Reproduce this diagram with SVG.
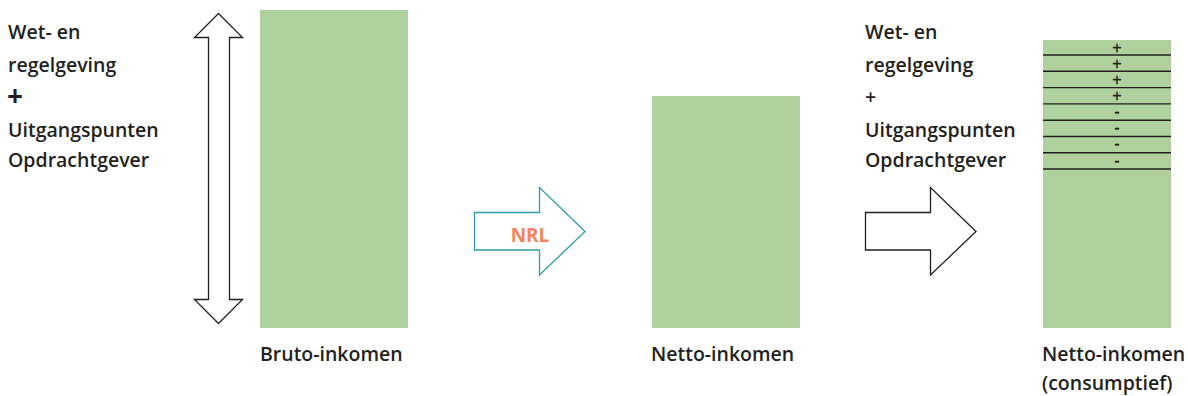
<svg xmlns="http://www.w3.org/2000/svg" width="1188" height="396" viewBox="0 0 1188 396">
<style>
.t{font-family:"Open Sans","Liberation Sans",sans-serif;font-size:19.5px;font-weight:600;fill:#231f20}
.bar{fill:#aed19e}
.ol{fill:#fff;stroke:#231f20;stroke-width:1.3}
.sep{stroke:#231f20;stroke-width:1.4}
.s{font-family:"Liberation Sans",sans-serif;font-size:16px;fill:#231f20;stroke:#231f20;stroke-width:0.3;text-anchor:middle}
</style>
<rect width="1188" height="396" fill="#fff"/>
<g id="left-text">
<text class="t" x="8" y="39">Wet- en</text>
<text class="t" x="8" y="72">regelgeving</text>
<text class="t" x="7" y="106" style="font-size:28px;font-weight:700">+</text>
<text class="t" x="8" y="137">Uitgangspunten</text>
<text class="t" x="8" y="167">Opdrachtgever</text>
</g>
<g id="double-arrow">
<polygon class="ol" points="218.5,13.5 242.5,37.5 229.5,37.5 229.5,299.5 242.5,299.5 218.5,323.5 194.5,299.5 208.5,299.5 208.5,37.5 194.5,37.5"/>
</g>
<g id="bruto">
<rect class="bar" x="260" y="10" width="148" height="318"/>
<text class="t" x="260" y="361">Bruto-inkomen</text>
</g>
<g id="nrl-arrow">
<polygon points="474.5,212.5 539.5,212.5 539.5,187.5 585,231.5 539.5,275 539.5,250 474.5,250" fill="#fff" stroke="#2a9faa" stroke-width="1.3"/>
<text x="530" y="242" text-anchor="middle" style="font-family:'Open Sans','Liberation Sans',sans-serif;font-size:19px;font-weight:700;fill:#f4845a">NRL</text>
</g>
<g id="netto">
<rect class="bar" x="652" y="96" width="148" height="232"/>
<text class="t" x="651" y="361">Netto-inkomen</text>
</g>
<g id="arrow2">
<polygon class="ol" points="865.5,212.5 930.5,212.5 930.5,187.5 976,231.5 930.5,275 930.5,250 865.5,250"/>
</g>
<g id="right-text">
<text class="t" x="865" y="39">Wet- en</text>
<text class="t" x="865" y="72">regelgeving</text>
<text class="t" x="865" y="104">+</text>
<text class="t" x="865" y="137">Uitgangspunten</text>
<text class="t" x="865" y="167">Opdrachtgever</text>
</g>
<g id="netto-consumptief">
<rect class="bar" x="1043" y="40" width="128" height="288"/>
<line class="sep" x1="1043" y1="55" x2="1171" y2="55"/>
<line class="sep" x1="1043" y1="71.3" x2="1171" y2="71.3"/>
<line class="sep" x1="1043" y1="87.6" x2="1171" y2="87.6"/>
<line class="sep" x1="1043" y1="103.9" x2="1171" y2="103.9"/>
<line class="sep" x1="1043" y1="120.2" x2="1171" y2="120.2"/>
<line class="sep" x1="1043" y1="136.5" x2="1171" y2="136.5"/>
<line class="sep" x1="1043" y1="152.8" x2="1171" y2="152.8"/>
<line class="sep" x1="1043" y1="169" x2="1171" y2="169"/>
<text class="s" x="1117" y="53">+</text>
<text class="s" x="1117" y="69">+</text>
<text class="s" x="1117" y="85">+</text>
<text class="s" x="1117" y="101">+</text>
<text class="s" x="1117" y="117">-</text>
<text class="s" x="1117" y="133">-</text>
<text class="s" x="1117" y="149">-</text>
<text class="s" x="1117" y="166">-</text>
<text class="t" x="1042" y="361">Netto-inkomen</text>
<text class="t" x="1042" y="390">(consumptief)</text>
</g>
</svg>
